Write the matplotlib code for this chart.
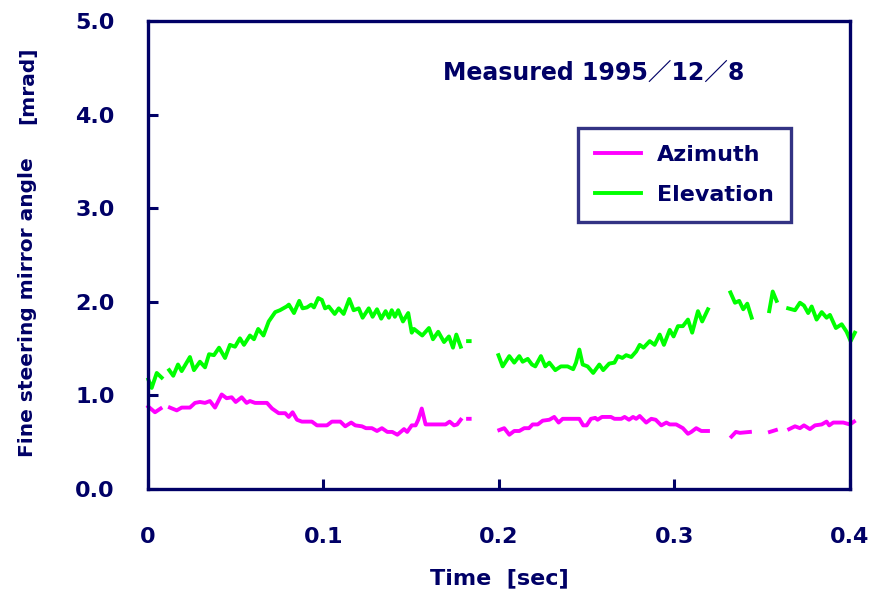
import numpy as np
import matplotlib.pyplot as plt

nan = np.nan

# Elevation (green) - time [sec], angle [mrad]; NaN marks missing data
t_el = [0.0002, 0.0021, 0.0050, 0.0078, 0.0095,
        0.0121, 0.0144, 0.0171, 0.0192, 0.0239, 0.0262, 0.0296, 0.0325, 0.0348, 0.0376,
        0.0405, 0.0439, 0.0467, 0.0496, 0.0524, 0.0547, 0.0581, 0.0604, 0.0628, 0.0658,
        0.0688, 0.0725, 0.0752, 0.0790, 0.0803, 0.0832, 0.0862, 0.0881, 0.0906, 0.0930,
        0.0946, 0.0970, 0.0991, 0.1009, 0.1030, 0.1064, 0.1087, 0.1115, 0.1147, 0.1172,
        0.1201, 0.1223, 0.1258, 0.1280, 0.1305, 0.1329, 0.1354, 0.1373, 0.1389, 0.1407,
        0.1426, 0.1453, 0.1483, 0.1503, 0.1516, 0.1563, 0.1601, 0.1624, 0.1654, 0.1687,
        0.1715, 0.1738, 0.1757, 0.1782, 0.1800, 0.1824, 0.1833, 0.1900,
        0.1997, 0.2021, 0.2059, 0.2087, 0.2116, 0.2135, 0.2164, 0.2188, 0.2207, 0.2239,
        0.2264, 0.2287, 0.2321, 0.2353, 0.2391, 0.2423, 0.2439, 0.2458, 0.2477, 0.2505,
        0.2537, 0.2572, 0.2594, 0.2628, 0.2658, 0.2678, 0.2703, 0.2725, 0.2754, 0.2782,
        0.2802, 0.2824, 0.2859, 0.2887, 0.2916, 0.2940, 0.2973, 0.2995, 0.3020, 0.3048,
        0.3077, 0.3101, 0.3134, 0.3158, 0.3191, 0.3250,
        0.3319, 0.3345, 0.3369, 0.3392, 0.3415, 0.3440, 0.3490,
        0.3540, 0.3560, 0.3582, 0.3610,
        0.3648, 0.3687, 0.3715, 0.3738, 0.3762, 0.3782, 0.3810, 0.3839, 0.3867, 0.3886,
        0.3920, 0.3953, 0.3981, 0.4004, 0.4028]
elevation = [1.17, 1.08, 1.24, 1.19, nan,
             1.27, 1.21, 1.33, 1.26, 1.41, 1.27, 1.36, 1.30, 1.44, 1.43,
             1.51, 1.40, 1.54, 1.52, 1.61, 1.54, 1.64, 1.60, 1.71, 1.64,
             1.79, 1.89, 1.91, 1.95, 1.97, 1.88, 2.01, 1.93, 1.94, 1.97,
             1.94, 2.04, 2.02, 1.93, 1.95, 1.87, 1.93, 1.87, 2.03, 1.91,
             1.93, 1.83, 1.93, 1.84, 1.92, 1.82, 1.90, 1.83, 1.91, 1.84,
             1.91, 1.79, 1.88, 1.67, 1.71, 1.64, 1.72, 1.60, 1.68, 1.57,
             1.63, 1.51, 1.65, 1.52, nan, 1.58, 1.58, nan,
             1.43, 1.31, 1.42, 1.35, 1.42, 1.36, 1.39, 1.33, 1.31, 1.42,
             1.31, 1.35, 1.27, 1.31, 1.31, 1.28, 1.35, 1.49, 1.33, 1.31,
             1.24, 1.33, 1.27, 1.34, 1.35, 1.42, 1.40, 1.43, 1.41, 1.47,
             1.54, 1.51, 1.58, 1.54, 1.65, 1.54, 1.70, 1.63, 1.74, 1.74,
             1.81, 1.67, 1.90, 1.79, 1.92, nan,
             2.10, 1.99, 2.01, 1.92, 1.98, 1.83, nan,
             1.90, 2.11, 2.01, nan,
             1.93, 1.91, 1.99, 1.96, 1.88, 1.95, 1.81, 1.89, 1.83, 1.86,
             1.72, 1.76, 1.68, 1.58, 1.67]

# Azimuth (magenta)
t_az = [0.0002, 0.0040, 0.0072, 0.0095,
        0.0125, 0.0164, 0.0192, 0.0239, 0.0268, 0.0296, 0.0325, 0.0353, 0.0382, 0.0420,
        0.0448, 0.0477, 0.0500, 0.0534, 0.0562, 0.0581, 0.0610, 0.0678, 0.0707, 0.0745,
        0.0782, 0.0802, 0.0824, 0.0849, 0.0877, 0.0934, 0.0963, 0.1020, 0.1048, 0.1096,
        0.1124, 0.1158, 0.1181, 0.1219, 0.1242, 0.1276, 0.1305, 0.1333, 0.1364, 0.1392,
        0.1421, 0.1459, 0.1477, 0.1503, 0.1525, 0.1540, 0.1560, 0.1582, 0.1639, 0.1696,
        0.1719, 0.1744, 0.1762, 0.1782, 0.1800, 0.1824, 0.1833, 0.1900,
        0.2002, 0.2030, 0.2059, 0.2087, 0.2116, 0.2144, 0.2171, 0.2192, 0.2221, 0.2249,
        0.2287, 0.2315, 0.2340, 0.2363, 0.2439, 0.2458, 0.2480, 0.2500, 0.2524, 0.2549,
        0.2562, 0.2587, 0.2638, 0.2658, 0.2697, 0.2716, 0.2741, 0.2764, 0.2782, 0.2802,
        0.2839, 0.2868, 0.2893, 0.2925, 0.2954, 0.2973, 0.3010, 0.3048, 0.3077, 0.3096,
        0.3124, 0.3153, 0.3191, 0.3250,
        0.3325, 0.3350, 0.3373, 0.3430, 0.3490,
        0.3544, 0.3578, 0.3610,
        0.3654, 0.3687, 0.3715, 0.3738, 0.3772, 0.3801, 0.3839, 0.3867, 0.3882, 0.3905,
        0.3962, 0.4000, 0.4023]
azimuth = [0.88, 0.82, 0.86, nan,
           0.87, 0.84, 0.87, 0.87, 0.92, 0.93, 0.92, 0.94, 0.87, 1.01,
           0.97, 0.98, 0.93, 0.98, 0.92, 0.94, 0.92, 0.92, 0.86, 0.81,
           0.81, 0.77, 0.82, 0.74, 0.72, 0.72, 0.68, 0.68, 0.72, 0.72,
           0.67, 0.71, 0.68, 0.67, 0.65, 0.65, 0.62, 0.65, 0.61, 0.61,
           0.58, 0.64, 0.61, 0.68, 0.68, 0.74, 0.86, 0.69, 0.69, 0.69,
           0.72, 0.68, 0.69, 0.74, nan, 0.75, 0.75, nan,
           0.63, 0.65, 0.58, 0.62, 0.62, 0.65, 0.65, 0.69, 0.69, 0.73,
           0.74, 0.77, 0.71, 0.75, 0.75, 0.75, 0.68, 0.68, 0.75, 0.76,
           0.74, 0.77, 0.77, 0.75, 0.75, 0.77, 0.74, 0.77, 0.75, 0.78,
           0.71, 0.75, 0.74, 0.68, 0.71, 0.69, 0.69, 0.65, 0.59, 0.61,
           0.65, 0.62, 0.62, nan,
           0.56, 0.61, 0.60, 0.61, nan,
           0.61, 0.63, nan,
           0.64, 0.67, 0.65, 0.68, 0.64, 0.68, 0.69, 0.72, 0.68, 0.71,
           0.71, 0.69, 0.72]

x_ticks = [0, 0.1, 0.2, 0.3, 0.4]
x_tick_labels = ["0", "0.1", "0.2", "0.3", "0.4"]
y_ticks = [0.0, 1.0, 2.0, 3.0, 4.0, 5.0]

navy = "#000066"
plt.rcParams['font.family'] = ['DejaVu Sans', 'Noto Sans CJK JP']
plt.rcParams['font.weight'] = 'bold'

fig = plt.figure(figsize=(8.72, 5.99), dpi=100)
ax = fig.add_axes([0.1697, 0.1836, 0.805, 0.7814])

ax.plot(t_az, azimuth, color="#FF00FF", lw=2.8, label="Azimuth", clip_on=False)
ax.plot(t_el, elevation, color="#00FF00", lw=2.8, label="Elevation", clip_on=False)

ax.set_xlim(0, 0.4)
ax.set_ylim(0, 5)
ax.set_xticks(x_ticks)
ax.set_xticklabels(x_tick_labels)
ax.set_yticks(y_ticks)
ax.set_yticklabels([f"{v:.1f}" for v in y_ticks])

for s in ax.spines.values():
    s.set_color(navy)
    s.set_linewidth(2.4)
ax.tick_params(axis='both', direction='in', length=7, width=2.2, colors=navy,
               labelsize=16)
ax.tick_params(axis='y', pad=24)
ax.tick_params(axis='x', pad=27)
for lab in ax.get_xticklabels() + ax.get_yticklabels():
    lab.set_fontweight('bold')

ax.set_xlabel("Time  [sec]", fontsize=16, color=navy, fontweight='bold', labelpad=16)
fig.text(0.032, 0.488, "Fine steering mirror angle", rotation=90, fontsize=14.5,
         color=navy, fontweight='bold', ha='center', va='center')
fig.text(0.032, 0.858, "[mrad]", rotation=90, fontsize=14.5,
         color=navy, fontweight='bold', ha='center', va='center')

ax.text(0.168, 4.45, "Measured 1995／12／8", fontsize=17, color=navy,
        fontweight='bold', va='center')

leg = ax.legend(loc='upper left', bbox_to_anchor=(0.663, 0.786),
                bbox_transform=fig.transFigure, fontsize=16, frameon=True,
                fancybox=False, handlelength=2.1, handletextpad=0.7,
                borderpad=0.75, labelspacing=0.9, borderaxespad=0)
leg.get_frame().set_edgecolor(navy)
leg.get_frame().set_linewidth(2.4)
for txt in leg.get_texts():
    txt.set_color(navy)
    txt.set_fontweight('bold')

fig.savefig("out.png", dpi=100)
